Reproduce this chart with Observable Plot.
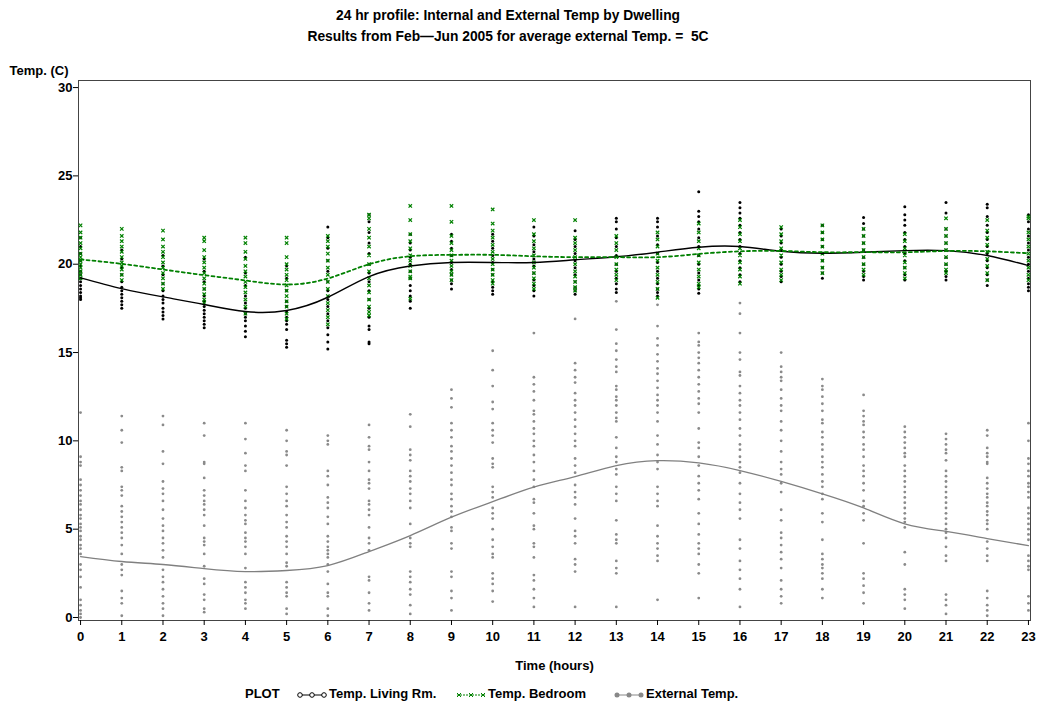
<!DOCTYPE html>
<html><head><meta charset="utf-8">
<script src="https://cdn.jsdelivr.net/npm/d3@7"></script>
<script src="https://cdn.jsdelivr.net/npm/@observablehq/plot@0.6"></script>
<style>
body{margin:0;background:#fff;font-family:"Liberation Sans",Arial,sans-serif;color:#000;}
#wrap{position:relative;width:1037px;height:709px;overflow:hidden;}
#head{position:relative;height:50px;}
.t{position:absolute;left:508px;transform:translateX(-50%);white-space:nowrap;font-weight:bold;font-size:13.8px;}
#legend{position:absolute;top:686px;left:0;width:1037px;height:20px;font-weight:bold;font-size:13px;}
#legend span,#legend svg{position:absolute;top:0;}
</style></head>
<body><div id="wrap">
<div id="head">
<div class="t" style="top:8px">24 hr profile: Internal and External Temp by Dwelling</div>
<div class="t" style="top:29px">Results from Feb—Jun 2005 for average external Temp. = &nbsp;5C</div>
</div>
<div id="chart"></div>
<div id="legend">
<span style="left:245px">PLOT</span>
<svg style="left:296px" width="32" height="18"><line x1="2" x2="30" y1="9" y2="9" stroke="#000" stroke-width="1"/><circle cx="4" cy="9" r="2.3" fill="#fff" stroke="#000"/><circle cx="16" cy="9" r="2.3" fill="#fff" stroke="#000"/><circle cx="28" cy="9" r="2.3" fill="#fff" stroke="#000"/></svg>
<span style="left:329px">Temp. Living Rm.</span>
<svg style="left:455px" width="32" height="18"><line x1="2" x2="30" y1="9" y2="9" stroke="#008000" stroke-width="1" stroke-dasharray="2,1"/><path d="M2,7l4,4M6,7l-4,4M14,7l4,4M18,7l-4,4M26,7l4,4M30,7l-4,4" stroke="#008000" stroke-width="1"/></svg>
<span style="left:488px">Temp. Bedroom</span>
<svg style="left:613px" width="32" height="18"><line x1="2" x2="30" y1="9" y2="9" stroke="#888" stroke-width="1"/><circle cx="4" cy="9" r="2.5" fill="#888"/><circle cx="16" cy="9" r="2.5" fill="#888"/><circle cx="28" cy="9" r="2.5" fill="#888"/></svg>
<span style="left:646px">External Temp.</span>
</div>
</div>
<script>
// ---- data ----
const hours = [0,1,2,3,4,5,6,7,8,9,10,11,12,13,14,15,16,17,18,19,20,21,22,23];
const yTicks = [0,5,10,15,20,25,30];

// mean profile lines
const meanLiving = [19.23,18.62,18.15,17.72,17.32,17.38,18.13,19.3,19.9,20.1,20.1,20.1,20.25,20.42,20.68,20.96,21.0,20.73,20.62,20.68,20.77,20.77,20.49,19.92];
const meanBedroom = [20.27,20.02,19.7,19.38,19.08,18.85,19.19,20.0,20.45,20.53,20.53,20.45,20.4,20.4,20.4,20.58,20.73,20.75,20.68,20.68,20.68,20.75,20.73,20.62];
const meanExternal = [3.45,3.17,3.0,2.77,2.6,2.66,2.94,3.73,4.64,5.68,6.56,7.38,7.98,8.6,8.88,8.75,8.32,7.7,7.0,6.2,5.3,4.87,4.47,4.07];

// individual readings per hour
const livingPts = [
 [21.5,21.0,20.6,20.2,19.9,19.6,19.4,19.2,19.0,18.8,18.6,18.4,18.2,18.1,18.0],
 [20.8,20.3,19.8,19.4,19.0,18.7,18.5,18.3,18.1,17.9,17.7,17.5],
 [20.5,19.9,19.4,18.9,18.5,18.2,18.0,17.8,17.5,17.3,17.1,16.9],
 [20.3,19.6,19.0,18.6,18.2,17.9,17.6,17.4,17.2,17.0,16.8,16.6,16.4],
 [20.4,19.5,18.8,18.2,17.8,17.5,17.2,17.0,16.8,16.5,16.2,15.9],
 [19.9,19.2,18.5,17.9,17.6,17.3,17.0,16.8,16.6,16.3,15.7,15.5,15.3],
 [22.1,21.5,20.9,20.2,19.6,19.0,18.5,18.0,17.6,17.2,16.8,16.4,16.0,15.6,15.2],
 [22.8,22.4,21.8,21.2,20.6,20.0,19.5,19.0,18.5,18.0,17.5,17.0,16.5,16.3,15.6,15.5],
 [21.7,21.2,20.8,20.4,20.0,19.6,19.2,18.8,18.5,18.2,17.9,17.5],
 [21.7,21.3,20.9,20.5,20.1,19.7,19.4,19.1,18.9,18.6],
 [21.7,21.3,20.9,20.5,20.1,19.7,19.4,19.0,18.7,18.5,18.3],
 [22.1,21.6,21.1,20.7,20.3,19.9,19.5,19.1,18.8,18.5,18.2],
 [21.9,21.4,21.0,20.6,20.2,19.8,19.4,19.0,18.7,18.5,18.3],
 [22.6,22.4,22.0,21.5,21.0,20.5,20.0,19.6,19.2,18.9,18.6,18.4],
 [22.6,22.4,22.1,21.6,21.1,20.6,20.1,19.6,19.2,18.9,18.6,18.4,18.2],
 [24.1,23.0,22.7,22.4,22.0,21.5,21.0,20.5,20.0,19.5,19.1,18.8,18.6,18.35],
 [23.5,23.2,22.9,22.6,22.2,21.8,21.4,21.0,20.6,20.2,19.8,19.4,19.0],
 [22.0,21.6,21.2,20.8,20.4,20.0,19.6,19.3,19.0],
 [22.2,21.8,21.4,21.0,20.6,20.2,19.8,19.5,19.2],
 [22.65,22.3,22.0,21.6,21.2,20.8,20.4,20.0,19.6,19.3,19.1],
 [23.25,22.8,22.5,22.2,21.8,21.4,21.0,20.6,20.2,19.8,19.4,19.1],
 [23.5,22.9,22.0,21.6,21.2,20.8,20.4,20.0,19.6,19.3,19.1],
 [23.4,23.2,22.7,22.2,21.8,21.4,21.0,20.6,20.2,19.8,19.4,19.1,18.8],
 [22.8,22.4,22.0,21.6,21.2,20.8,20.4,20.0,19.6,19.2,18.9,18.7,18.5]
];
const bedroomPts = [
 [22.2,21.8,21.5,21.2,20.9,20.6,20.4,20.2,20.0,19.8,19.6,19.4,19.2],
 [22.0,21.6,21.3,21.0,20.7,20.4,20.1,19.9,19.7,19.4,19.1],
 [21.9,21.4,21.0,20.7,20.4,20.1,19.8,19.5,19.2,18.9,18.6],
 [21.5,21.3,20.8,20.4,20.1,19.8,19.5,19.2,18.9,18.6,18.3,18.0,17.8],
 [21.5,21.2,20.7,20.3,19.9,19.6,19.3,19.0,18.7,18.4,18.0,17.6,17.2],
 [21.5,21.2,20.4,20.0,19.7,19.4,19.1,18.8,18.5,18.2,17.9,17.6,17.2,16.9],
 [21.6,21.3,21.0,20.6,20.2,19.8,19.4,19.0,18.6,18.2,17.8,17.4,17.0,16.6],
 [22.8,22.6,22.0,21.5,21.0,20.5,20.0,19.6,19.2,18.8,18.4,18.0,17.6,17.3,17.1],
 [23.3,22.5,21.7,21.3,20.9,20.5,20.2,19.9,19.6,19.3,19.2,18.05],
 [23.3,22.4,21.6,21.2,20.8,20.5,20.2,19.9,19.6,19.4,19.1],
 [23.1,22.3,21.9,21.5,21.1,20.7,20.3,20.0,19.7,19.4,19.1,18.9],
 [22.5,21.7,21.3,20.9,20.5,20.1,19.8,19.5,19.2,18.9,18.6],
 [22.5,21.5,21.2,20.8,20.4,20.0,19.6,19.3,19.0,18.7,18.5],
 [21.6,21.2,20.8,20.4,20.0,19.7,19.4,19.1],
 [21.8,21.4,21.0,20.6,20.2,19.8,19.4,19.0,18.6,18.1],
 [22.3,21.8,21.3,20.9,20.5,20.1,19.7,19.3,18.9,18.7],
 [22.5,22.1,21.7,21.3,20.9,20.5,20.1,19.7,19.3,18.9],
 [22.1,21.7,21.3,20.9,20.5,20.1,19.7,19.4,19.1],
 [22.2,21.8,21.4,21.0,20.6,20.2,19.8,19.5],
 [22.0,21.6,21.2,20.8,20.4,20.0,19.7,19.4],
 [21.7,21.3,20.9,20.5,20.1,19.8,19.5,19.2],
 [22.6,22.0,21.6,21.2,20.8,20.4,20.0,19.7,19.5],
 [22.5,21.9,21.5,21.1,20.7,20.3,19.9,19.5,19.1],
 [22.7,22.6,21.8,21.4,21.0,20.6,20.2,19.8,19.4,19.1]
];
const externalPts = [
 [11.6,9.1,8.8,8.6,7.8,7.5,7.2,6.9,6.6,6.4,6.1,5.8,5.6,5.3,5.1,4.9,4.6,4.4,4.1,3.9,3.6,3.0,2.7,2.3,1.7,1.0,0.7,0.4,0.2,0.0],
 [11.4,10.6,9.9,8.5,8.3,7.4,7.2,6.9,6.3,6.0,5.7,5.4,5.1,4.8,4.5,4.1,3.6,3.0,2.7,2.4,1.5,1.1,0.8,0.1],
 [11.4,10.9,9.4,8.7,7.7,7.3,7.0,6.6,6.1,5.6,5.2,4.9,4.5,4.2,3.8,3.4,2.7,2.3,2.0,1.6,1.2,0.8,0.5,0.1],
 [11.0,10.3,8.8,8.7,7.9,7.2,6.9,6.6,6.4,6.1,5.8,5.2,4.5,4.3,4.1,3.6,2.9,2.2,1.9,1.3,1.0,0.5,0.3],
 [11.0,10.1,9.3,8.6,8.3,7.2,6.6,6.2,5.8,5.5,5.3,4.8,4.5,4.3,4.0,3.6,2.8,2.0,1.7,1.4,1.0,0.8,0.5],
 [10.6,10.0,9.4,9.2,8.6,7.4,7.0,6.6,6.3,5.8,5.4,5.1,4.6,4.3,4.0,3.6,3.1,2.9,2.0,1.7,1.4,1.2,0.5,0.2],
 [10.3,10.0,9.8,8.3,8.0,7.5,6.8,6.5,6.2,5.7,5.3,4.6,4.3,4.0,3.8,3.6,3.4,3.0,2.6,1.9,1.4,1.2,0.5,0.1],
 [10.9,10.2,9.7,9.5,8.8,8.3,7.8,7.6,7.3,6.6,6.4,6.1,5.8,5.1,4.5,4.2,3.8,2.3,2.1,1.4,0.8,0.4],
 [11.5,10.8,9.5,9.2,8.9,8.3,8.0,7.7,7.3,7.0,6.6,6.2,5.3,4.5,4.2,4.0,2.6,2.3,2.0,1.6,1.3,0.7,0.2],
 [12.9,12.4,11.9,11.0,10.6,10.2,9.7,9.4,9.0,8.6,8.2,7.8,7.5,7.0,6.7,6.3,6.0,5.7,5.1,4.9,4.2,3.9,2.6,2.3,1.5,1.1,0.4],
 [15.1,14.0,13.1,12.2,11.8,11.0,10.6,10.3,9.9,9.0,8.7,8.5,7.4,7.1,6.8,6.2,5.9,5.6,5.0,4.4,4.0,3.6,3.4,2.5,2.2,1.9,1.5,0.9],
 [16.1,13.6,13.2,12.8,12.3,11.7,11.5,11.1,10.7,10.4,10.0,9.7,9.2,8.8,8.3,7.8,7.4,6.7,6.5,5.9,5.2,5.0,4.2,4.0,3.4,2.4,2.1,1.6,1.1,0.6],
 [16.9,14.4,14.0,13.6,13.3,12.7,12.3,12.0,11.6,11.2,10.8,10.4,10.0,9.7,9.0,8.6,8.2,7.5,7.1,6.8,6.4,5.6,4.9,4.6,4.2,3.3,3.0,2.6,0.6],
 [17.9,16.3,15.5,15.1,14.6,14.2,13.9,13.1,12.9,12.5,12.3,12.0,11.6,11.3,11.1,10.2,9.6,9.1,8.8,8.4,8.1,7.4,7.0,6.6,5.5,4.7,4.4,4.2,3.2,2.8,2.5,0.6],
 [17.7,16.5,15.8,15.4,14.9,14.5,14.1,13.8,13.4,13.0,12.6,12.3,12.0,11.6,11.1,10.3,9.8,9.2,8.8,8.4,7.4,7.0,6.6,6.3,5.2,4.6,4.2,3.9,3.5,3.2,1.0],
 [16.1,15.6,15.4,15.0,14.7,14.4,14.0,13.6,13.2,12.8,12.4,12.1,11.6,10.7,9.9,9.6,9.1,8.6,8.0,7.6,7.2,6.7,5.9,5.3,4.7,4.2,3.9,3.6,3.0,2.5,1.1],
 [17.8,17.2,16.1,15.0,14.6,13.9,13.7,13.1,12.7,12.3,12.0,11.6,11.2,10.7,10.3,9.8,9.5,9.1,8.8,8.5,8.2,7.6,7.0,6.5,6.1,5.6,4.4,3.9,3.2,2.7,2.2,1.6,0.6],
 [15.0,14.2,13.9,13.6,13.4,12.9,12.4,12.0,11.7,11.1,10.6,10.0,9.4,8.8,8.4,8.1,7.6,7.1,6.1,5.5,4.8,4.5,4.1,3.7,3.3,2.8,2.1,1.6,1.2,0.8],
 [13.5,13.1,12.9,12.5,12.1,11.7,11.2,11.0,10.5,10.2,9.8,9.5,9.1,8.8,8.5,8.1,7.7,7.4,7.0,6.7,5.9,5.4,4.4,3.6,3.3,3.0,2.8,2.5,2.2,1.6,1.1],
 [12.6,11.7,11.4,11.1,10.9,10.5,10.2,9.8,9.5,9.1,8.6,8.3,8.0,7.6,7.2,6.6,6.3,5.9,5.5,4.2,2.5,2.2,1.8,1.4,0.8],
 [10.8,10.5,10.2,9.9,9.6,9.3,9.1,8.6,8.3,8.0,7.7,7.4,7.1,6.8,6.5,6.2,5.9,5.6,5.4,5.1,3.7,3.0,1.6,1.3,1.0,0.5],
 [10.4,10.1,9.8,9.5,9.3,8.9,8.3,8.0,7.7,7.4,7.1,6.8,6.5,6.2,5.9,5.6,5.3,5.0,4.8,4.5,4.0,3.5,3.2,1.3,1.0,0.7,0.2],
 [10.6,10.3,9.6,9.3,9.1,8.8,8.7,7.9,7.6,7.3,7.0,6.8,6.5,6.3,6.0,5.8,5.5,5.3,5.0,4.3,3.9,3.5,3.2,1.5,1.1,0.7,0.4,0.1],
 [11.0,10.0,9.0,8.7,8.3,8.0,7.6,7.4,7.1,6.8,6.2,5.9,5.6,5.3,5.0,4.7,4.4,3.5,3.2,2.9,2.7,1.2,0.8,0.4]
];

// ---- build tables ----
const flat = (arr) => arr.flatMap((vals, h) => vals.map(v => ({hour: hours[h], temp: v})));
const livingRows = flat(livingPts);
const bedroomRows = flat(bedroomPts);
const externalRows = flat(externalPts);
const meanRows = (arr) => arr.map((v, i) => ({hour: hours[i], temp: v}));

const font = '"Liberation Sans", Arial, sans-serif';
const chart = Plot.plot({
  width: 1037,
  height: 659,
  marginLeft: 78,
  marginRight: 7,
  marginTop: 30,
  marginBottom: 89,
  style: {fontFamily: font, fontSize: "13px", fontWeight: "bold", color: "#000", background: "#fff"},
  x: {domain: [-0.05, 23.05]},
  y: {domain: [-0.17, 30.4]},
  marks: [
    Plot.frame({stroke: "#444", strokeWidth: 1}),
    Plot.axisX({ticks: hours, tickFormat: d => String(d), tickSize: 5, tickPadding: 6, label: null, fontSize: 13}),
    Plot.axisY({ticks: yTicks, tickFormat: d => String(d), tickSize: 5, tickPadding: 1, label: null, fontSize: 13}),
    Plot.text(["Temp. (C)"], {frameAnchor: "top-left", dx: -69, dy: -10, textAnchor: "start", lineAnchor: "middle", fontSize: 13}),
    Plot.text(["Time (hours)"], {frameAnchor: "bottom", dy: 45, lineAnchor: "middle", fontSize: 13}),
    Plot.dot(externalRows, {x: "hour", y: "temp", r: 1.4, fill: "#8a8a8a", stroke: "none"}),
    Plot.dot(livingRows, {x: "hour", y: "temp", r: 1.5, fill: "#000", stroke: "none"}),
    Plot.dot(bedroomRows, {x: "hour", y: "temp", symbol: "times", r: 1.7, stroke: "#008000", strokeWidth: 1.2, fill: "none"}),
    Plot.line(meanRows(meanExternal), {x: "hour", y: "temp", stroke: "#808080", strokeWidth: 1.3, curve: "natural"}),
    Plot.line(meanRows(meanLiving), {x: "hour", y: "temp", stroke: "#000", strokeWidth: 1.4, curve: "natural"}),
    Plot.line(meanRows(meanBedroom), {x: "hour", y: "temp", stroke: "#008000", strokeWidth: 1.8, strokeDasharray: "3,3", curve: "natural"})
  ]
});
document.getElementById("chart").appendChild(chart);
</script>
</body></html>
